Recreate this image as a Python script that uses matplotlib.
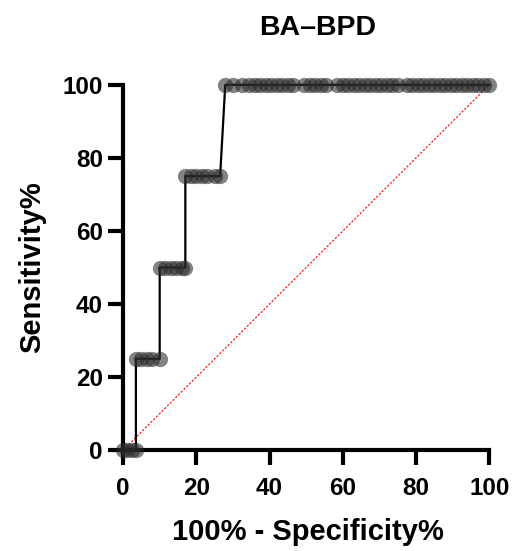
import matplotlib.pyplot as plt
import numpy as np

plt.rcParams['font.family'] = ['Liberation Sans', 'DejaVu Sans']

# ROC points (100% - specificity, sensitivity)
fpr_0 = [0, 1.2, 2.4, 3.5]
fpr_25 = [3.5, 5, 6.5, 8, 10]
fpr_50 = [10, 11.5, 13, 14.5, 16, 17]
fpr_75 = [17, 18.5, 20, 21.5, 23, 25, 26.5]
fpr_100 = [27.9, 30, 32.5, 34.5, 36, 37.5, 39, 40.5, 42, 43.5, 45, 46.5,
           49.5, 51, 52.5, 54, 55.5, 58.5, 60, 61.5, 63, 64.5, 66, 67.5, 69,
           70.5, 72, 73.5, 75, 77.5, 79, 80.5, 82, 83.5, 85, 86.5, 88, 89.5,
           91, 92.5, 94, 95.5, 97, 98.5, 100]

x = fpr_0 + fpr_25 + fpr_50 + fpr_75 + fpr_100
y = ([0] * len(fpr_0) + [25] * len(fpr_25) + [50] * len(fpr_50)
     + [75] * len(fpr_75) + [100] * len(fpr_100))

fig = plt.figure(figsize=(5.15, 5.51), dpi=100)
ax = fig.add_axes([0.239, 0.183, 0.711, 0.663])

ax.plot([0, 100], [0, 100], color='red', lw=0.8, ls=(0, (2, 1.5)), clip_on=False, zorder=1)
ax.plot(x, y, color='black', lw=1.6, clip_on=False, zorder=2)
ax.plot(x, y, ls='none', marker='o', ms=11, color='#2a2a2a', alpha=0.58,
        mec='none', clip_on=False, zorder=3)

ax.set_xlim(0, 100)
ax.set_ylim(0, 100)
ax.set_xticks(np.arange(0, 101, 20))
ax.set_yticks(np.arange(0, 101, 20))

for s in ['top', 'right']:
    ax.spines[s].set_visible(False)
for s in ['left', 'bottom']:
    ax.spines[s].set_linewidth(3)

ax.tick_params(width=3, length=11, labelsize=17.5)
ax.tick_params(axis='x', pad=8)
ax.tick_params(axis='y', pad=3.5)
for lab in ax.get_xticklabels() + ax.get_yticklabels():
    lab.set_fontweight('bold')

ax.set_xlabel('100% - Specificity%', fontsize=21, fontweight='bold')
ax.set_ylabel('Sensitivity%', fontsize=21, fontweight='bold')
ax.xaxis.label.set_va('center')
ax.yaxis.label.set_va('center')
ax.xaxis.set_label_coords(0.504, -0.2247)
ax.yaxis.set_label_coords(-0.249, 0.5)

fig.text(0.617, 0.949, 'BA\u2013BPD', fontsize=20.5, fontweight='bold',
         ha='center', va='center')

fig.savefig('out.png', dpi=100)
